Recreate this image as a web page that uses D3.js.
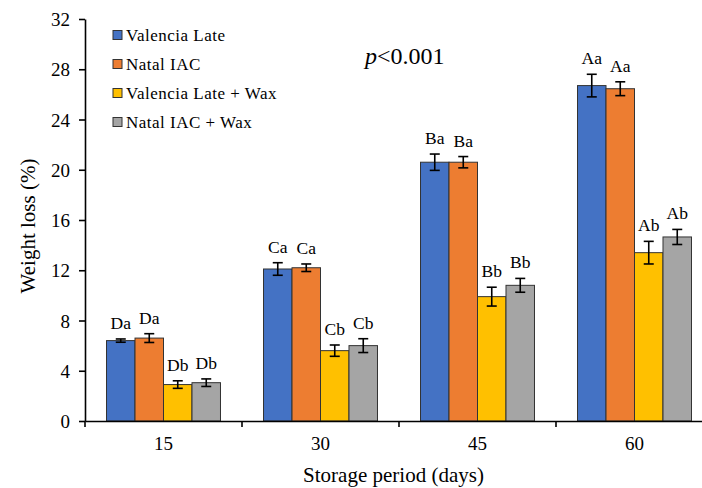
<!DOCTYPE html>
<html>
<head>
<meta charset="utf-8">
<script src="https://cdn.jsdelivr.net/npm/d3@7"></script>
<style>
  body { margin: 0; background: #fff; }
  text { font-family: "Liberation Serif", "Times New Roman", serif; fill: #000; }
</style>
</head>
<body>
<div id="chart"></div>
<script>
// data
const periods = ["15", "30", "45", "60"];
const seriesNames = ["Valencia Late", "Natal IAC", "Valencia Late + Wax", "Natal IAC + Wax"];
const colors = ["#4472C4", "#ED7D31", "#FFC000", "#A5A5A5"];

const valenciaLate = [6.4, 12.1, 20.6, 26.7];
const natalIAC = [6.6, 12.2, 20.6, 26.45];
const valenciaWax = [2.9, 5.6, 9.9, 13.4];
const natalWax = [3.05, 6.0, 10.8, 14.65];

const valenciaLateErr = [0.13, 0.5, 0.65, 0.9];
const natalIACErr = [0.35, 0.3, 0.45, 0.55];
const valenciaWaxErr = [0.3, 0.45, 0.75, 0.9];
const natalWaxErr = [0.3, 0.55, 0.55, 0.6];

const valenciaLateLetters = ["Da", "Ca", "Ba", "Aa"];
const natalIACLetters = ["Da", "Ca", "Ba", "Aa"];
const valenciaWaxLetters = ["Db", "Cb", "Bb", "Ab"];
const natalWaxLetters = ["Db", "Cb", "Bb", "Ab"];

const yTicks = [0, 4, 8, 12, 16, 20, 24, 28, 32];

const values = [valenciaLate, natalIAC, valenciaWax, natalWax];
const errors = [valenciaLateErr, natalIACErr, valenciaWaxErr, natalWaxErr];
const letters = [valenciaLateLetters, natalIACLetters, valenciaWaxLetters, natalWaxLetters];

const width = 702, height = 488;
const margin = {top: 19, left: 85, bottom: 67};
const plotH = height - margin.top - margin.bottom;

const svg = d3.select("#chart").append("svg")
    .attr("width", width)
    .attr("height", height);

// scales
const x = d3.scaleBand()
    .domain(periods)
    .range([margin.left, margin.left + 628])
    .paddingInner(0.274)
    .paddingOuter(0.137);

const xSub = d3.scaleBand()
    .domain(seriesNames)
    .range([0, x.bandwidth()]);

const y = d3.scaleLinear()
    .domain([0, 32])
    .range([margin.top + plotH, margin.top]);

// flatten for drawing
const rows = [];
periods.forEach((p, i) => {
    seriesNames.forEach((s, j) => {
        rows.push({period: p, series: s, color: colors[j],
            value: values[j][i], err: errors[j][i], letter: letters[j][i]});
    });
});

// bars
svg.append("g").selectAll("rect")
    .data(rows)
    .join("rect")
    .attr("x", d => x(d.period) + xSub(d.series))
    .attr("y", d => y(d.value))
    .attr("width", xSub.bandwidth())
    .attr("height", d => y(0) - y(d.value))
    .attr("fill", d => d.color)
    .attr("stroke", "#333")
    .attr("stroke-width", 1);

// error bars
const eb = svg.append("g").attr("stroke", "#000").attr("stroke-width", 1.6);
rows.forEach(d => {
    const cx = x(d.period) + xSub(d.series) + xSub.bandwidth() / 2;
    eb.append("line").attr("x1", cx).attr("x2", cx)
        .attr("y1", y(d.value + d.err)).attr("y2", y(d.value - d.err));
    eb.append("line").attr("x1", cx - 5).attr("x2", cx + 5)
        .attr("y1", y(d.value + d.err)).attr("y2", y(d.value + d.err));
    eb.append("line").attr("x1", cx - 5).attr("x2", cx + 5)
        .attr("y1", y(d.value - d.err)).attr("y2", y(d.value - d.err));
});

// letters above the bars
svg.append("g").selectAll("text")
    .data(rows)
    .join("text")
    .attr("x", d => x(d.period) + xSub(d.series) + xSub.bandwidth() / 2)
    .attr("y", d => y(d.value + d.err) - 10)
    .attr("text-anchor", "middle")
    .style("font-size", "17.5px")
    .text(d => d.letter);

// y axis
const yAxis = svg.append("g")
    .attr("transform", `translate(${margin.left},0)`)
    .call(d3.axisLeft(y).tickValues(yTicks).tickSize(6).tickPadding(9).tickSizeOuter(0));
yAxis.selectAll("text").style("font-size", "19px").attr("dy", "0.35em");
yAxis.selectAll("line, path").attr("stroke", "#000").attr("stroke-width", 1.6);

// x axis: labels at band centres, tick marks at band edges
const xAxis = svg.append("g")
    .attr("transform", `translate(0,${y(0)})`)
    .call(d3.axisBottom(x).tickSize(0).tickPadding(16).tickSizeOuter(0));
xAxis.select("path").attr("stroke", "#000").attr("stroke-width", 1.6);
xAxis.selectAll("text").style("font-size", "19px");
xAxis.selectAll(".edge")
    .data(d3.range(periods.length + 1))
    .join("line")
    .attr("class", "edge")
    .attr("x1", i => x.range()[0] + i * x.step())
    .attr("x2", i => x.range()[0] + i * x.step())
    .attr("y1", 0).attr("y2", 6)
    .attr("stroke", "#000").attr("stroke-width", 1.6);

// axis titles
svg.append("text")
    .attr("x", (margin.left + width) / 2)
    .attr("y", 482)
    .attr("text-anchor", "middle")
    .style("font-size", "21px")
    .text("Storage period (days)");

svg.append("text")
    .attr("transform", `translate(35,${margin.top + plotH / 2 + 6}) rotate(-90)`)
    .attr("text-anchor", "middle")
    .style("font-size", "21px")
    .text("Weight loss (%)");

// p value
const pText = svg.append("text")
    .attr("x", 365)
    .attr("y", 64)
    .style("font-size", "24px");
pText.append("tspan").style("font-style", "italic").text("p");
pText.append("tspan").text("<0.001");

// legend
const legend = svg.append("g").attr("transform", "translate(113,35)");
seriesNames.forEach((s, i) => {
    const g = legend.append("g").attr("transform", `translate(0,${i * 29})`);
    g.append("rect")
        .attr("x", 0).attr("y", -4.5)
        .attr("width", 9).attr("height", 9)
        .attr("fill", colors[i])
        .attr("stroke", "#333").attr("stroke-width", 1);
    g.append("text")
        .attr("x", 13).attr("y", 0).attr("dy", "0.35em")
        .style("font-size", "17px")
        .style("letter-spacing", "0.5px")
        .text(s);
});
</script>
</body>
</html>
